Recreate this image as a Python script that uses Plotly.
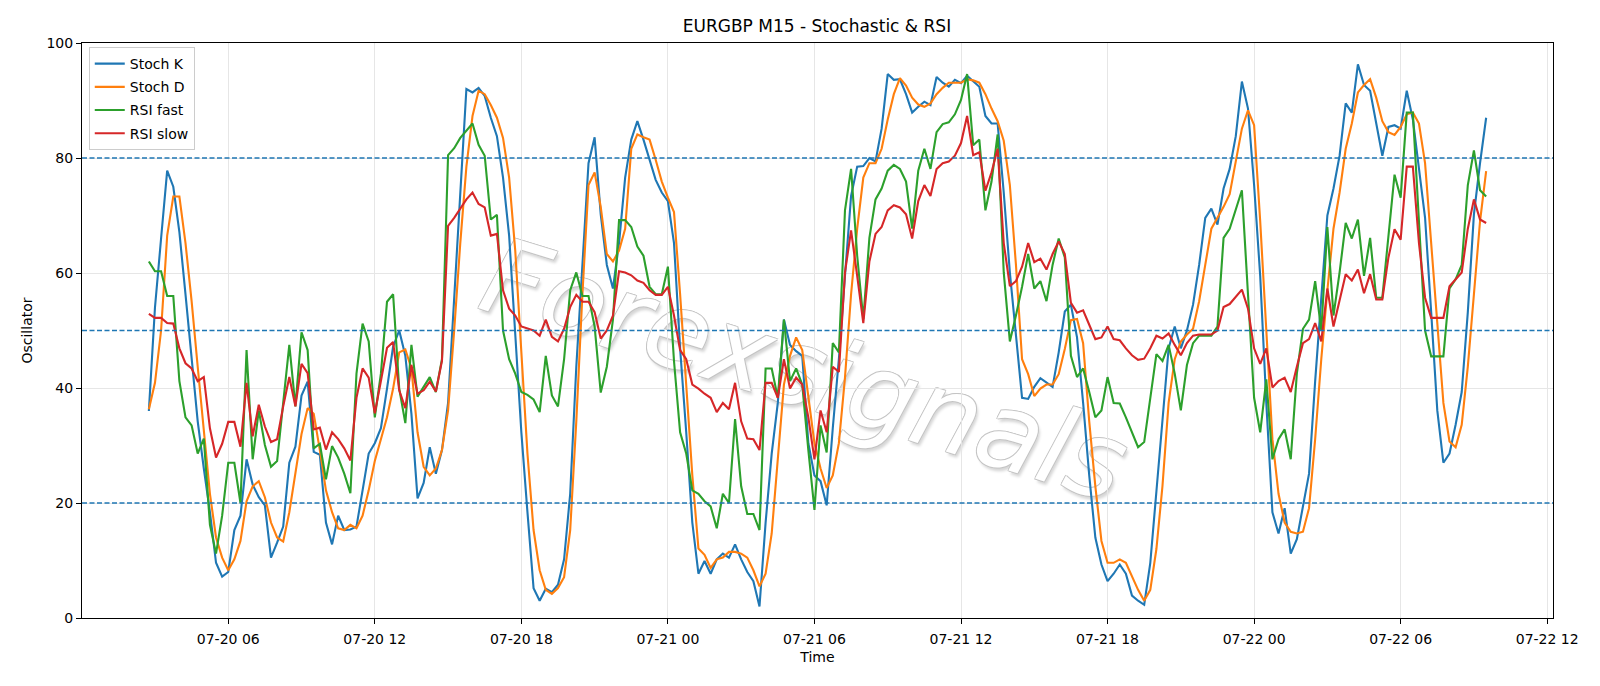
import pandas as pd
import plotly.graph_objects as go

start_time = "2022-07-20 02:45"
n_points = 220
times = pd.date_range(start_time, periods=n_points, freq="15min")

stoch_k = [
    36.0, 54.0, 66.0, 77.8, 75.0, 67.1, 56.3, 45.6, 34.2, 26.0,
    18.4, 9.6, 7.2, 8.0, 15.3, 17.8, 27.6, 23.2, 21.0, 19.6,
    10.5, 13.1, 15.9, 27.0, 29.8, 38.7, 41.1, 28.9, 28.4, 16.6,
    12.8, 17.8, 15.3, 15.4, 15.9, 22.2, 28.6, 30.4, 33.0, 39.9,
    47.2, 50.0, 45.6, 35.5, 20.8, 23.5, 29.7, 25.1, 29.2, 37.4,
    56.3, 74.0, 92.0, 91.4, 92.2, 90.8, 87.0, 83.8, 76.6, 66.5,
    50.0, 32.3, 18.4, 5.2, 3.0, 5.1, 4.5, 5.8, 10.2, 21.6,
    43.7, 61.4, 79.1, 83.6, 70.2, 61.4, 57.3, 65.2, 76.6, 83.2,
    86.4, 83.2, 79.6, 76.2, 74.0, 72.5, 65.2, 46.9, 32.3, 16.6,
    7.7, 9.9, 7.7, 10.2, 11.2, 10.5, 12.8, 10.2, 8.0, 6.4,
    2.0, 16.6, 28.6, 37.4, 51.9, 47.5, 46.4, 45.6, 30.4, 24.8,
    23.8, 19.6, 33.0, 45.0, 59.5, 73.4, 78.5, 78.6, 80.0, 79.4,
    85.1, 94.6, 93.6, 93.7, 91.1, 87.9, 88.9, 89.8, 89.2, 94.1,
    93.1, 92.4, 93.6, 93.0, 94.3, 93.3, 92.4, 87.3, 86.0, 86.0,
    74.0, 60.1, 48.8, 38.3, 38.1, 40.2, 41.7, 40.9, 40.2, 46.2,
    53.3, 54.5, 48.8, 37.4, 24.8, 14.0, 9.3, 6.4, 7.7, 9.3,
    7.7, 3.9, 3.0, 2.3, 9.6, 22.0, 34.5, 46.9, 50.7, 46.9,
    50.0, 54.5, 61.4, 69.6, 71.2, 68.4, 74.7, 78.1, 83.8, 93.3,
    88.6, 75.3, 59.5, 37.4, 18.4, 14.7, 19.1, 11.2, 13.7, 19.1,
    25.1, 41.2, 55.1, 70.0, 74.7, 80.4, 89.5, 87.9, 96.3, 92.7,
    91.7, 86.0, 80.4, 85.4, 85.7, 85.1, 91.7, 86.7, 78.5, 69.6,
    53.2, 36.1, 27.0, 28.6, 33.6, 39.3, 53.2, 70.2, 79.1, 87.0,
]

stoch_d = [
    36.3, 40.9, 50.0, 66.5, 73.3, 73.3, 65.2, 55.1, 43.7, 32.3,
    21.6, 14.0, 10.5, 8.3, 10.2, 13.4, 20.3, 22.9, 23.8, 21.0,
    16.6, 14.0, 13.3, 18.4, 24.8, 32.0, 36.5, 35.5, 29.2, 22.2,
    18.4, 15.6, 15.3, 16.2, 15.6, 17.8, 22.2, 27.3, 31.1, 34.9,
    39.9, 46.2, 46.7, 43.4, 32.3, 26.3, 24.8, 26.0, 29.2, 36.1,
    50.0, 65.2, 78.5, 87.3, 91.7, 91.1, 89.2, 87.0, 83.5, 76.6,
    63.9, 45.6, 28.6, 15.3, 8.3, 4.9, 4.2, 5.2, 7.1, 15.3,
    34.2, 56.3, 75.3, 77.5, 71.5, 63.3, 62.0, 63.9, 67.7, 81.6,
    84.1, 83.6, 83.2, 79.7, 75.9, 73.1, 70.6, 56.3, 40.6, 24.8,
    12.1, 11.0, 8.7, 10.2, 10.5, 11.5, 11.5, 11.2, 10.5, 8.3,
    5.5, 7.7, 14.7, 27.3, 40.6, 45.6, 48.8, 46.6, 38.0, 30.4,
    26.0, 22.6, 24.8, 30.4, 41.8, 56.3, 67.7, 76.6, 79.1, 79.1,
    81.6, 86.7, 91.1, 93.9, 92.6, 90.5, 89.3, 88.9, 89.5, 91.1,
    92.2, 93.1, 93.1, 93.1, 93.7, 93.5, 93.1, 91.1, 88.6, 86.4,
    83.0, 75.3, 61.4, 45.0, 42.4, 38.6, 39.9, 40.6, 40.6, 42.4,
    46.8, 51.8, 52.0, 47.8, 34.2, 22.9, 13.4, 9.6, 9.6, 10.2,
    9.6, 7.1, 4.9, 3.0, 4.9, 12.0, 23.0, 37.4, 45.0, 48.1,
    49.3, 50.3, 55.1, 61.4, 67.7, 69.6, 71.5, 73.7, 79.4, 85.1,
    88.3, 85.7, 69.0, 50.0, 31.1, 21.6, 16.6, 15.0, 14.7, 15.0,
    19.1, 31.1, 45.0, 57.0, 67.7, 74.0, 81.6, 86.0, 91.4, 92.7,
    93.7, 90.5, 86.4, 84.5, 84.0, 85.4, 87.6, 87.9, 86.0, 79.1,
    65.2, 50.0, 37.4, 30.7, 29.7, 33.6, 43.7, 56.3, 69.0, 77.7,
]

rsi_fast = [
    62.0, 60.3, 60.3, 56.0, 56.0, 41.2, 34.9, 33.5, 28.6, 31.2,
    16.2, 11.2, 17.8, 27.0, 27.0, 20.0, 46.6, 27.6, 36.1, 30.1,
    26.3, 27.3, 37.4, 47.5, 36.8, 49.7, 46.6, 29.5, 30.3, 24.1,
    29.9, 27.9, 25.1, 21.7, 42.5, 51.2, 48.1, 34.9, 42.5, 55.0,
    56.3, 39.9, 33.9, 47.5, 38.5, 40.2, 41.9, 39.3, 45.0, 80.5,
    81.7, 83.5, 84.8, 86.0, 82.3, 80.4, 69.3, 70.1, 50.0, 45.0,
    42.5, 39.3, 38.8, 38.0, 35.8, 45.6, 38.7, 36.8, 45.0, 57.0,
    60.1, 56.0, 56.0, 50.7, 39.2, 43.7, 51.9, 69.2, 69.2, 68.0,
    64.6, 63.0, 57.6, 56.3, 56.3, 61.1, 44.7, 32.3, 28.6, 22.2,
    21.6, 20.3, 19.4, 15.6, 21.6, 20.0, 34.6, 22.9, 18.1, 18.1,
    15.3, 43.4, 43.4, 38.3, 51.9, 41.2, 43.4, 40.6, 29.2, 18.8,
    33.5, 28.8, 47.8, 46.2, 70.9, 78.1, 63.0, 52.0, 66.1, 72.8,
    74.7, 77.8, 78.8, 78.1, 75.9, 67.7, 77.8, 81.6, 78.1, 84.5,
    85.9, 86.2, 87.6, 90.1, 94.6, 82.2, 83.2, 70.9, 75.9, 84.1,
    60.1, 48.1, 52.6, 57.6, 63.3, 57.3, 58.6, 55.1, 61.4, 66.0,
    62.7, 45.6, 41.9, 43.4, 39.3, 34.9, 36.1, 41.9, 37.4, 37.3,
    34.9, 32.3, 29.7, 30.6, 38.0, 45.9, 44.7, 47.5, 42.5, 36.1,
    44.0, 47.8, 49.1, 49.1, 49.1, 50.7, 66.1, 67.7, 70.9, 74.4,
    56.3, 38.3, 32.3, 41.5, 27.6, 31.1, 32.8, 27.6, 42.5, 50.3,
    51.9, 58.6, 50.0, 68.0, 52.6, 60.1, 68.7, 66.0, 69.3, 59.5,
    66.1, 55.7, 55.7, 66.5, 77.1, 73.1, 87.9, 87.9, 69.0, 50.0,
    45.5, 45.5, 45.5, 57.3, 58.9, 61.4, 75.3, 81.3, 74.4, 73.3,
]

rsi_slow = [
    52.9, 52.2, 52.2, 51.3, 51.2, 46.9, 44.3, 43.4, 41.2, 41.9,
    33.0, 27.9, 30.3, 34.1, 34.1, 29.8, 40.9, 31.6, 37.1, 33.3,
    30.6, 31.1, 36.8, 41.9, 36.8, 44.2, 42.6, 32.8, 33.1, 29.3,
    32.3, 31.1, 29.5, 27.4, 38.3, 43.4, 41.8, 35.6, 41.2, 47.0,
    48.0, 39.6, 36.5, 44.0, 39.0, 39.6, 41.1, 39.4, 44.7, 68.2,
    69.6, 71.2, 72.8, 74.0, 72.0, 71.4, 66.5, 66.8, 57.0, 53.8,
    52.6, 50.7, 50.3, 50.0, 49.1, 51.9, 48.9, 48.1, 50.3, 54.1,
    56.2, 55.0, 55.0, 53.2, 48.6, 50.0, 52.6, 60.3, 60.1, 59.6,
    58.7, 58.3, 57.0, 56.2, 56.2, 57.6, 52.6, 46.6, 45.0, 40.6,
    39.9, 39.0, 38.3, 35.8, 37.4, 36.3, 40.9, 34.2, 31.2, 31.1,
    29.2, 40.9, 40.9, 38.3, 45.0, 39.9, 41.8, 40.6, 34.9, 27.6,
    36.1, 32.3, 43.7, 42.8, 60.1, 67.4, 59.5, 51.3, 62.0, 66.8,
    68.0, 70.9, 71.8, 71.4, 70.2, 66.0, 72.5, 75.3, 73.4, 78.1,
    79.1, 79.4, 80.4, 82.6, 87.3, 80.5, 81.0, 74.3, 77.5, 81.6,
    65.2, 57.7, 58.6, 61.1, 65.2, 61.9, 62.5, 60.6, 63.3, 65.5,
    63.3, 54.8, 53.1, 53.5, 51.0, 48.5, 48.8, 50.7, 48.5, 48.3,
    46.9, 45.7, 44.9, 45.1, 46.9, 49.1, 48.6, 49.5, 47.5, 45.7,
    47.8, 49.1, 49.3, 49.3, 49.3, 50.0, 54.1, 54.6, 55.8, 57.1,
    53.8, 46.9, 44.2, 46.9, 40.1, 41.2, 41.8, 39.3, 43.7, 47.8,
    48.5, 51.3, 48.1, 57.3, 50.7, 55.1, 59.8, 58.7, 60.6, 56.5,
    59.8, 55.4, 55.4, 62.7, 67.6, 65.8, 78.5, 78.5, 65.2, 55.7,
    52.2, 52.2, 52.2, 57.7, 58.9, 60.1, 67.7, 72.8, 69.3, 68.7,
]

series_names = ["Stoch K", "Stoch D", "RSI fast", "RSI slow"]
series_colors = ["#1f77b4", "#ff7f0e", "#2ca02c", "#d62728"]
level_lines = [20, 50, 80]
y_ticks = [0, 20, 40, 60, 80, 100]
title_text = "EURGBP M15 - Stochastic & RSI"
watermark_text = "Forexsignals"

font_family = "DejaVu Sans"

fig = go.Figure()
for name, vals, col in zip(series_names, [stoch_k, stoch_d, rsi_fast, rsi_slow], series_colors):
    fig.add_trace(go.Scatter(x=times, y=vals, mode="lines", name=name, legendgroup=name,
                             line=dict(color=col, width=2.1)))

for lv in level_lines:
    fig.add_shape(type="line", xref="paper", x0=0, x1=1, yref="y", y0=lv, y1=lv,
                  line=dict(color="#1f77b4", width=1.3, dash="5px,2.5px"), layer="above")

# watermark (drawn beneath the data lines)
fig.add_shape(type="line", xref="paper", yref="paper", x0=0.26, y0=0.51, x1=0.70, y1=0.165,
              line=dict(color="rgba(0,0,0,0)", width=0), layer="below",
              label=dict(text=watermark_text, textposition="middle",
                         font=dict(family="DejaVu Sans", size=106, color="white", style="italic",
                                   shadow="-0.8px -0.8px 0 #c4c4c4, 0.8px -0.8px 0 #c4c4c4, -0.8px 0.8px 0 #c4c4c4, 0.8px 0.8px 0 #c4c4c4, 3px 3px 3px #d6d6d6")))

span = times[-1] - times[0]
x_range = [times[0] - span * 0.05, times[-1] + span * 0.05]

fig.update_layout(
    width=1600, height=686,
    margin=dict(l=82, r=47, t=43, b=68),
    paper_bgcolor="white", plot_bgcolor="white",
    font=dict(family=font_family, size=14, color="black"),
    title=dict(text=title_text, x=0.5106, xanchor="center", y=1 - 26 / 686, yanchor="middle",
               yref="container", font=dict(size=17, color="black")),
    showlegend=True,
    legend=dict(x=0.0046, y=0.993, xanchor="left", yanchor="top",
                bgcolor="rgba(255,255,255,0.8)", bordercolor="#cccccc", borderwidth=1,
                font=dict(size=14), tracegroupgap=2, itemwidth=30),
    xaxis=dict(range=x_range, title=dict(text="Time", standoff=6, font=dict(size=14)),
               tick0="2022-07-20 00:00", dtick=6 * 3600 * 1000, tickformat="%m-%d %H",
               showgrid=True, gridcolor="#e6e6e6", gridwidth=1,
               showline=True, linecolor="black", linewidth=1.1, mirror=True,
               ticks="outside", ticklen=5, tickcolor="black", tickfont=dict(size=14),
               ticklabelstandoff=3, zeroline=False),
    yaxis=dict(range=[0, 100], title=dict(text="Oscillator", standoff=10, font=dict(size=14)),
               tickvals=y_ticks, showgrid=True, gridcolor="#e6e6e6", gridwidth=1,
               showline=True, linecolor="black", linewidth=1.1, mirror=True,
               ticks="outside", ticklen=5, tickcolor="black", tickfont=dict(size=14),
               zeroline=False),
)

fig.write_html("out.html")
